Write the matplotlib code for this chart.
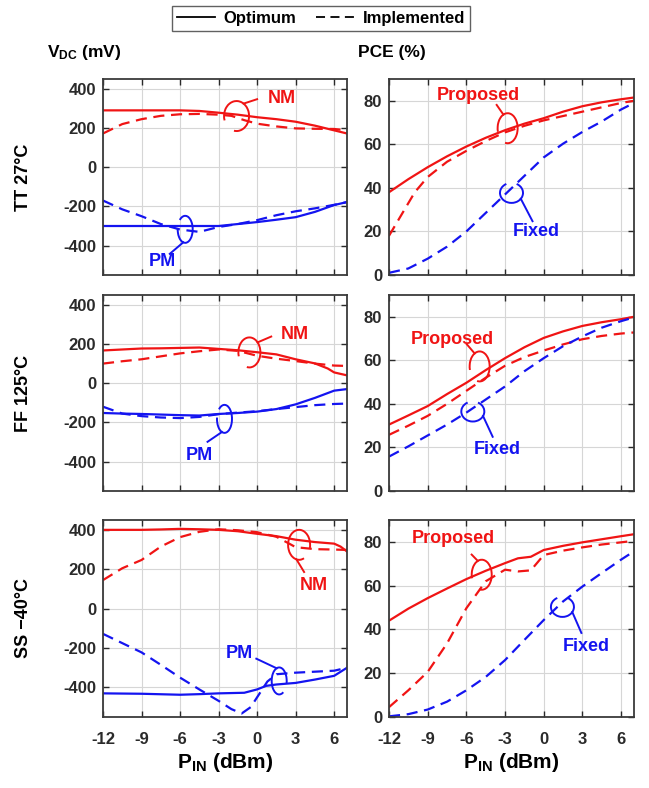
import numpy as np
import matplotlib.pyplot as plt
from matplotlib.patches import Arc
from matplotlib.lines import Line2D
from matplotlib.transforms import IdentityTransform

plt.rcParams['font.family'] = ['Liberation Sans', 'DejaVu Sans']
plt.rcParams['font.weight'] = 'bold'
plt.rcParams['axes.unicode_minus'] = False
plt.rcParams['mathtext.fontset'] = 'custom'
plt.rcParams['mathtext.rm'] = 'Liberation Sans:bold'
plt.rcParams['mathtext.it'] = 'Liberation Sans:bold'
plt.rcParams['mathtext.bf'] = 'Liberation Sans:bold'

RED = '#f01414'
BLUE = '#1414f0'
FRAME = '#3a3a3a'

# ---------------- data ----------------
# input power sweep (dBm)
x_main = [-12, -10.5, -9, -7.5, -6, -4.5, -3, -1.5, 0, 1.5, 3, 4.5, 6, 7]

# TT 27C, rectifier DC voltage (mV)
tt_nm_opt = [290, 290, 290, 290, 290, 287, 278, 268, 255, 245, 232, 212, 188, 172]
tt_nm_imp_x = [-12, -10.5, -9, -7.5, -6, -4.5, -3, -2, -1, 0, 1.5, 3, 4.5, 6, 7]
tt_nm_imp = [172, 220, 245, 262, 270, 272, 268, 262, 240, 222, 208, 198, 196, 195, 188]
tt_pm_opt = [-300, -300, -300, -300, -300, -300, -300, -290, -280, -268, -255, -228, -193, -178]
tt_pm_imp = [-170, -215, -250, -290, -318, -330, -305, -290, -270, -245, -225, -210, -192, -178]

# TT 27C, power conversion efficiency (%)
tt_prop_opt = [38, 44, 49.5, 54.5, 59, 63, 66.5, 69.5, 72, 75, 77.5, 79.3, 80.7, 81.5]
tt_prop_imp_x = [-12, -11, -10, -9, -7.5, -6, -4.5, -3, -1.5, 0, 1.5, 3, 4.5, 6, 7]
tt_prop_imp = [18, 28, 38, 45, 52, 57, 61.5, 65.5, 68.5, 71, 73, 75, 77, 79, 80]
tt_fixed = [1, 3, 7.5, 13, 20, 28.5, 37, 45.5, 54, 60.3, 65.7, 70.5, 76, 79]

# FF 125C, rectifier DC voltage (mV)
ff_nm_opt_x = [-12, -10.5, -9, -7.5, -6, -4.5, -3, -1.5, 0, 1.5, 3, 4.5, 5.5, 6, 7]
ff_nm_opt = [167, 172, 177, 178, 180, 182, 175, 168, 158, 147, 122, 101, 75, 55, 40]
ff_nm_imp = [100, 112, 122, 137, 152, 163, 172, 165, 140, 125, 113, 100, 90, 88]
ff_pm_opt = [-152, -155, -157, -160, -163, -165, -157, -152, -145, -132, -108, -75, -38, -30]
ff_pm_imp = [-120, -155, -168, -175, -178, -172, -158, -150, -143, -132, -122, -112, -106, -104]

# FF 125C, power conversion efficiency (%)
ff_prop_opt = [30.5, 34.7, 39, 44.5, 49.7, 55.5, 61, 66, 70.3, 73.3, 75.8, 77.5, 78.9, 80]
ff_prop_imp = [25.8, 30, 34.5, 40, 46, 52, 57.5, 61.5, 64.5, 67.3, 69.7, 71.2, 72.3, 72.8]
ff_fixed = [15.8, 20.5, 25.5, 30.5, 36, 42, 48, 55, 61, 66.5, 71, 75, 78, 79.7]

# SS -40C, rectifier DC voltage (mV)
ss_nm_opt_x = [-12, -9, -7.5, -6, -4.5, -3, -1.5, 0, 1.5, 3, 4.5, 6, 6.5, 7]
ss_nm_opt = [400, 400, 402, 405, 403, 400, 393, 380, 368, 350, 338, 330, 315, 290]
ss_nm_imp_x = [-12, -10.5, -9, -7.5, -6, -4.5, -3, -1.5, 0, 1.5, 2.5, 3, 4.5, 6, 7]
ss_nm_imp = [145, 205, 247, 315, 363, 390, 403, 398, 388, 365, 330, 312, 302, 300, 298]
ss_pm_opt_x = [-12, -9, -6, -4.5, -3, -1, 0, 0.7, 1.5, 3, 4.5, 6, 7]
ss_pm_opt = [-430, -432, -437, -434, -430, -427, -410, -392, -385, -377, -360, -341, -300]
ss_pm_imp_x = [-12, -10.5, -9, -7.5, -6, -4.5, -3, -2, -1.2, -0.5, 0.3, 0.8, 1.5, 3, 4.5, 6, 7]
ss_pm_imp = [-128, -175, -222, -285, -350, -410, -468, -510, -532, -500, -420, -370, -333,
             -325, -320, -315, -300]

# SS -40C, power conversion efficiency (%)
ss_pce_x = [-12, -10.5, -9, -7.5, -6, -4.5, -3, -2, -1, 0, 1.5, 3, 4.5, 6, 7]
ss_prop_opt = [44, 49.5, 54.3, 58.7, 63, 66.8, 70.3, 72.5, 73.2, 76.3, 78.2, 79.8, 81.2, 82.6, 83.5]
ss_prop_imp = [4.5, 12.2, 20.6, 33.6, 49.7, 62, 67.3, 66.5, 67, 74, 76, 77.5, 78.8, 79.8, 80.5]
ss_fixed_x = [-12, -10.5, -9, -7.5, -6, -4.5, -3, -1.5, 0, 1.5, 3, 4.5, 6, 7]
ss_fixed = [0.3, 1.3, 3.4, 7, 12.2, 18.3, 26, 35.2, 44.3, 52.8, 59.6, 65.8, 71.9, 75.7]

corners = ['TT 27°C', 'FF 125°C', 'SS \u221240°C']
x_ticks = [-12, -9, -6, -3, 0, 3, 6]

# ---------------- figure ----------------
W, H = 649, 788
fig = plt.figure(figsize=(W / 100, H / 100), dpi=100)

rows_px = [(79, 275), (295, 491), (520, 717)]
left_px = (103, 347)
right_px = (389, 634)


def make_axes(xpx, ypx):
    return fig.add_axes([xpx[0] / W, 1 - ypx[1] / H, (xpx[1] - xpx[0]) / W, (ypx[1] - ypx[0]) / H])


def style(ax, yticks, ylim, bottom):
    ax.set_xlim(-12, 7)
    ax.set_ylim(*ylim)
    ax.set_xticks(x_ticks)
    ax.set_yticks(yticks)
    ax.grid(True, color='#d6d6d6', linewidth=0.8)
    ax.set_axisbelow(True)
    ax.tick_params(direction='in', length=4, width=1, top=True, right=True,
                   labelsize=12, colors='#2a2a2a')
    ax.tick_params(axis='y', pad=5)
    ax.tick_params(axis='x', pad=11)
    for lab in ax.get_xticklabels() + ax.get_yticklabels():
        lab.set_fontweight('bold')
    for sp in ax.spines.values():
        sp.set_color(FRAME)
        sp.set_linewidth(1.3)
    if not bottom:
        ax.set_xticklabels([])
    else:
        ax.set_xlabel(r'P$_{\rm IN}$ (dBm)', fontsize=15, fontweight='bold', labelpad=3)


def solid(ax, x, y, c):
    ax.plot(x, y, color=c, lw=1.6, solid_joinstyle='round')


def dashed(ax, x, y, c):
    ax.plot(x, y, color=c, lw=1.6, dashes=(5, 3))


def bracket(ax, center, size, gap, lead_ang, lead_end, label_xy, text, color):
    """Open ellipse around a pair of curves with a leader line to its label."""
    cx, cy = ax.transData.transform(center)
    w, h = size
    arc = Arc((cx, cy), w, h, theta1=gap[1], theta2=gap[0], color=color, lw=1.4,
              transform=IdentityTransform(), clip_on=False)
    ax.add_patch(arc)
    a = np.deg2rad(lead_ang)
    sx, sy = cx + w / 2 * np.cos(a), cy + h / 2 * np.sin(a)
    ex, ey = ax.transData.transform(lead_end)
    ax.add_line(Line2D([sx, ex], [sy, ey], color=color, lw=1.4,
                       transform=IdentityTransform(), clip_on=False))
    ax.text(label_xy[0], label_xy[1], text, color=color, fontsize=13, fontweight='bold',
            ha='center', va='center')


v_ticks = [-400, -200, 0, 200, 400]
v_lim = (-550, 450)
p_ticks = [0, 20, 40, 60, 80]
p_lim = (0, 90)

axes = []
for i, ypx in enumerate(rows_px):
    axl = make_axes(left_px, ypx)
    axr = make_axes(right_px, ypx)
    style(axl, v_ticks, v_lim, i == 2)
    style(axr, p_ticks, p_lim, i == 2)
    axes.append((axl, axr))
    fig.text(23 / W, 1 - (ypx[0] + ypx[1]) / 2 / H, corners[i], rotation=90, ha='center',
             va='center', fontsize=13, fontweight='bold')

# TT 27C
axl, axr = axes[0]
solid(axl, x_main, tt_nm_opt, RED)
dashed(axl, tt_nm_imp_x, tt_nm_imp, RED)
solid(axl, x_main, tt_pm_opt, BLUE)
dashed(axl, x_main, tt_pm_imp, BLUE)
bracket(axl, (-1.6, 261), (25, 30), (200, 260), 56, (0.0, 347), (1.9, 352), 'NM', RED)
bracket(axl, (-5.6, -317), (15, 27), (120, 170), 255, (-6.8, -442), (-7.35, -482), 'PM', BLUE)

solid(axr, x_main, tt_prop_opt, RED)
dashed(axr, tt_prop_imp_x, tt_prop_imp, RED)
dashed(axr, x_main, tt_fixed, BLUE)
bracket(axr, (-2.8, 67.4), (20, 30), (200, 260), 115, (-3.65, 78.1), (-5.1, 82.3), 'Proposed', RED)
bracket(axr, (-2.5, 37.7), (23, 20), (60, 120), 324, (-0.87, 24.7), (-0.56, 20), 'Fixed', BLUE)

# FF 125C
axl, axr = axes[1]
solid(axl, ff_nm_opt_x, ff_nm_opt, RED)
dashed(axl, x_main, ff_nm_imp, RED)
solid(axl, x_main, ff_pm_opt, BLUE)
dashed(axl, x_main, ff_pm_imp, BLUE)
bracket(axl, (-0.6, 157), (22, 30), (200, 260), 42, (1.1, 238), (2.9, 248), 'NM', RED)
bracket(axl, (-2.54, -182), (15, 28), (120, 170), 250, (-3.86, -299), (-4.48, -370), 'PM', BLUE)

solid(axr, x_main, ff_prop_opt, RED)
dashed(axr, x_main, ff_prop_imp, RED)
dashed(axr, x_main, ff_fixed, BLUE)
bracket(axr, (-4.97, 57.2), (20, 30), (200, 260), 120, (-5.97, 67.4), (-7.1, 69.7), 'Proposed', RED)
bracket(axr, (-5.5, 36.5), (23, 20), (60, 120), 333, (-3.96, 24.9), (-3.58, 18.9), 'Fixed', BLUE)

# SS -40C
axl, axr = axes[2]
solid(axl, ss_nm_opt_x, ss_nm_opt, RED)
dashed(axl, ss_nm_imp_x, ss_nm_imp, RED)
solid(axl, ss_pm_opt_x, ss_pm_opt, BLUE)
dashed(axl, ss_pm_imp_x, ss_pm_imp, BLUE)
bracket(axl, (3.27, 324), (22, 30), (290, 340), 256, (3.66, 186), (4.43, 119), 'NM', RED)
bracket(axl, (1.72, -367), (15, 27), (290, 340), 110, (-0.06, -254), (-1.38, -229), 'PM', BLUE)

solid(axr, ss_pce_x, ss_prop_opt, RED)
dashed(axr, ss_pce_x, ss_prop_imp, RED)
dashed(axr, ss_fixed_x, ss_fixed, BLUE)
bracket(axr, (-4.81, 65), (20, 30), (200, 260), 113, (-5.59, 74.2), (-7.05, 81.5), 'Proposed', RED)
bracket(axr, (1.45, 50.3), (23, 20), (60, 120), 329, (2.92, 38.4), (3.3, 32.4), 'Fixed', BLUE)

# column headers
fig.text(47 / W, 1 - 52 / H, r'V$_{\rm DC}$ (mV)', ha='left', va='center', fontsize=12.5,
         fontweight='bold')
fig.text(358 / W, 1 - 52 / H, 'PCE (%)', ha='left', va='center', fontsize=12.5, fontweight='bold')

# shared legend
handles = [Line2D([], [], color='black', lw=1.3),
           Line2D([], [], color='black', lw=1.3, dashes=(5, 3))]
leg = fig.legend(handles, ['Optimum', 'Implemented'], loc='center', ncol=2,
                 bbox_to_anchor=(321 / W, 1 - 18 / H), fontsize=12, frameon=True,
                 fancybox=False, edgecolor=FRAME, handlelength=2.3, columnspacing=1.2,
                 borderpad=0.3, handletextpad=0.5)
leg.get_frame().set_linewidth(1.0)
for t in leg.get_texts():
    t.set_fontweight('bold')

fig.savefig('out.png', dpi=100)
